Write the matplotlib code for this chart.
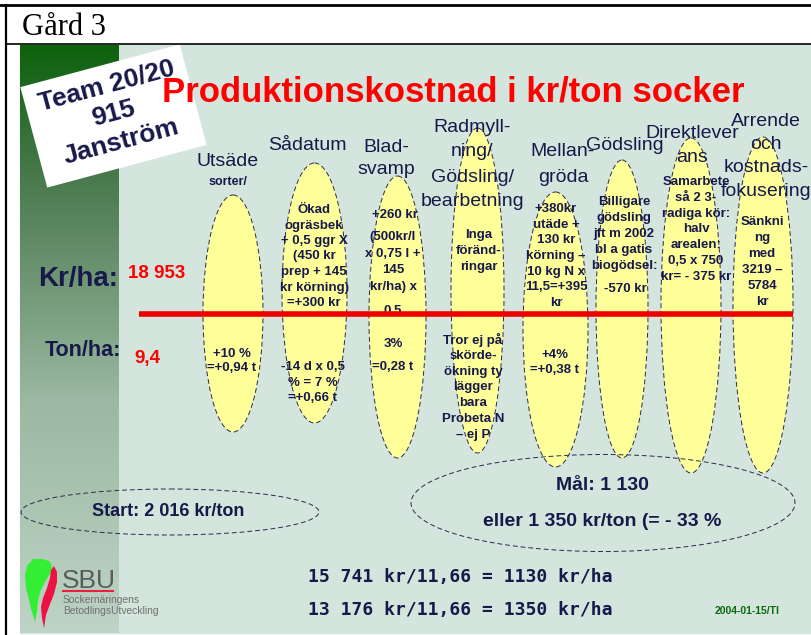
import numpy as np
import matplotlib
matplotlib.use("Agg")
import matplotlib.pyplot as plt
from matplotlib.patches import Ellipse, Rectangle, Polygon

plt.rcParams["font.family"] = ["Liberation Sans", "DejaVu Sans"]

# ------------------------------------------------------------
# SLIDE CONTENT
# ------------------------------------------------------------
frame_title = "Gård 3"
title = "Produktionskostnad i kr/ton socker"
team_lines = ["Team 20/20", "915", "Janström"]

columns = ["Utsäde", "Sådatum", "Blad-\nsvamp",
           "Radmyll-\nning/\nGödsling/\nbearbetning", "Mellan-\ngröda",
           "Gödsling", "Direktlever\nans", "Arrende\noch\nkostnads-\nfokusering"]
column_sub = "sorter/"

# cost effect (above the red line), one list of paragraphs per column
cost_notes = [
    [],
    ["Ökad\nogräsbek\n+ 0,5 ggr X\n(450 kr\nprep + 145\nkr körning)\n=+300 kr"],
    ["+260 kr", "(500kr/l\nx 0,75 l +\n145\nkr/ha) x", "0,5"],
    ["Inga\nföränd-\nringar"],
    ["+380kr\nutäde +\n130 kr\nkörning –\n10 kg N x\n11,5=+395\nkr"],
    ["Billigare\ngödsling\njft m 2002\nbl a gatis\nbiogödsel:", "-570 kr"],
    ["Samarbete\nså 2 3-\nradiga kör:\nhalv\narealen:\n0,5 x 750\nkr= - 375 kr"],
    ["Sänkni\nng\nmed\n3219 –\n5784\nkr"],
]

# yield effect (below the red line)
yield_notes = [
    ["+10 %\n=+0,94 t"],
    ["-14 d x 0,5\n% = 7 %\n=+0,66 t"],
    ["3%", "=0,28 t"],
    ["Tror ej på\nskörde-\nökning ty\nlägger\nbara\nProbeta N\n– ej P"],
    ["+4%\n=+0,38 t"],
    [], [], [],
]

kr_ha_label, kr_ha_value = "Kr/ha:", "18 953"
ton_ha_label, ton_ha_value = "Ton/ha:", "9,4"
start_text = "Start: 2 016 kr/ton"
goal_lines = ["Mål: 1 130", "eller 1 350 kr/ton (= - 33 %"]
calc_lines = ["15 741 kr/11,66 = 1130 kr/ha", "13 176 kr/11,66 = 1350 kr/ha"]
date_text = "2004-01-15/TI"
logo_name = "SBU"
logo_lines = ["Sockernäringens", "BetodlingsUtveckling"]

# ------------------------------------------------------------
# LAYOUT (pixels on the 811x635 picture)
# ------------------------------------------------------------
ellipse_geom = [(233, 313.5, 60, 237), (314.5, 293, 65, 260), (397.5, 317, 57, 282),
                (477.5, 290.5, 53, 325), (555.5, 329.5, 65, 275), (622, 309, 52, 298),
                (691, 305.5, 60, 335), (763, 305, 60, 336)]
header_pos = [(228, 162, 0), (307, 146, 0), (386, 147, 23), (472, 127, 25),
              (563, 152, 25), (625, 146, 0), (692, 133, 25), (766, 121, 23.5)]
cost_pos = [[], [(314, 210, 15.5)], [(395, 215, 0), (393, 237, 16.7), (393, 311, 0)],
            [(479, 235, 16)], [(556, 209, 15.7)], [(624, 202, 16), (625, 289, 0)],
            [(696, 182, 15.8)], [(762, 222, 16)]]
yield_pos = [[(232, 354, 14)], [(313, 367, 15.5)], [(393, 344, 0), (393, 367, 0)],
             [(473, 340, 15.8)], [(555, 355, 15)], [], [], []]

NAVY = "#17194a"
RED = "#ff0000"
BG = "#d3e5dc"
YELLOW = "#ffff99"


def block(ax, x, y, text, step, **kw):
    for i, line in enumerate(text.split("\n")):
        ax.text(x, y + i * step, line, ha="center", va="center", **kw)


fig = plt.figure(figsize=(8.11, 6.35), dpi=100)
ax = fig.add_axes([0, 0, 1, 1])

# slide background + green strip
ax.add_patch(Rectangle((20, 45), 791, 588, color=BG, zorder=0))
stops_y = [45, 180, 400, 633]
stops_c = np.array([[13, 98, 13], [74, 122, 78], [155, 184, 162], [190, 212, 198]]) / 255
ys = np.linspace(45, 633, 300)
grad = np.stack([np.interp(ys, stops_y, stops_c[:, k]) for k in range(3)], axis=1)
ax.imshow(grad[:, None, :], extent=(20, 119, 633, 45), aspect="auto", zorder=1)

# frame
ax.plot([0, 811], [5, 5], color="black", lw=2, zorder=10)
ax.plot([5.5, 811], [43.5, 43.5], color="black", lw=1.2, zorder=10)
ax.plot([5.5, 5.5], [5, 635], color="black", lw=1.6, zorder=10)
ax.text(22, 35, frame_title, fontsize=22, family="Liberation Serif", ha="left", va="baseline")

# team note (rotated white card)
slide_clip = Rectangle((20, 45), 791, 588, transform=ax.transData)
card = Rectangle((113.5 - 82.5, 116 - 52), 165, 104, angle=-15, rotation_point="center",
                 facecolor="white", edgecolor="none", zorder=2)
ax.add_patch(card)
card.set_clip_path(slide_clip)
ang = np.deg2rad(15)
for i, line in enumerate(team_lines):
    off = (i - 1) * 29
    ax.text(114 + off * np.sin(ang), 114 + off * np.cos(ang), line, rotation=15,
            rotation_mode="anchor", ha="center", va="center", fontsize=19,
            fontweight="bold", color=NAVY, zorder=3)

ax.text(453, 101, title, fontsize=25, fontweight="bold", color=RED,
        ha="center", va="baseline", zorder=5)

# column ellipses
for (cx, cy, w, h) in ellipse_geom:
    ax.add_patch(Ellipse((cx, cy), w, h, facecolor=YELLOW, edgecolor="#2a2a50",
                         lw=0.7, linestyle=(0, (5, 3)), zorder=3))

for name, (x, y, step) in zip(columns, header_pos):
    block(ax, x, y, name, step, fontsize=14, color=NAVY, zorder=5)
ax.text(228, 182, column_sub, ha="center", va="center", fontsize=9,
        fontweight="bold", color=NAVY, zorder=5)

for notes, pos in zip(cost_notes, cost_pos):
    for txt, (x, y, step) in zip(notes, pos):
        block(ax, x, y, txt, step, fontsize=9.5, fontweight="bold", color=NAVY, zorder=5)
for notes, pos in zip(yield_notes, yield_pos):
    for txt, (x, y, step) in zip(notes, pos):
        block(ax, x, y, txt, step, fontsize=9.5, fontweight="bold", color=NAVY, zorder=5)

# red reference line
ax.plot([139, 793], [314, 314], color="#ee0000", lw=4, solid_capstyle="butt", zorder=6)

ax.text(78, 279, kr_ha_label, ha="center", va="center", fontsize=20,
        fontweight="bold", color=NAVY, zorder=5)
ax.text(128, 273, kr_ha_value, ha="left", va="center", fontsize=13.5,
        fontweight="bold", color=RED, zorder=5)
ax.text(83, 351, ton_ha_label, ha="center", va="center", fontsize=15.5,
        fontweight="bold", color=NAVY, zorder=5)
ax.text(134, 358, ton_ha_value, ha="left", va="center", fontsize=13.5,
        fontweight="bold", color=RED, zorder=5)

# start / goal bubbles
ax.add_patch(Ellipse((170, 512), 298, 46, fill=False, edgecolor="#2a2a50",
                     lw=0.7, linestyle=(0, (5, 3)), zorder=6))
ax.text(168, 512, start_text, ha="center", va="center", fontsize=13,
        fontweight="bold", color=NAVY, zorder=6)
ax.add_patch(Ellipse((603, 503), 384, 97, fill=False, edgecolor="#2a2a50",
                     lw=0.7, linestyle=(0, (5, 3)), zorder=6))
block(ax, 602, 485, "\n".join(goal_lines), 36, fontsize=14, fontweight="bold",
      color=NAVY, zorder=6)

for i, line in enumerate(calc_lines):
    ax.text(308, 577 + i * 33, line, ha="left", va="center", fontsize=13,
            family="DejaVu Sans Mono", fontweight="bold", color=NAVY, zorder=6)

ax.text(747, 611, date_text, ha="center", va="center", fontsize=7.5,
        fontweight="bold", color="#0a6a0a", zorder=6)

# SBU logo
green = [(27, 566), (25, 575), (26, 588), (29, 600), (32, 612), (35, 622), (37, 612),
         (38, 600), (41, 590), (46, 580), (51, 572), (52, 566), (49, 561), (42, 559), (33, 559)]
red = [(54, 566), (57, 572), (57, 582), (54, 594), (50, 604), (46, 615), (44, 628),
       (42, 618), (41, 607), (43, 598), (47, 588), (50, 578), (51, 570)]
ax.add_patch(Polygon(green, closed=True, facecolor="#33ee33", edgecolor="none", zorder=6))
ax.add_patch(Polygon(red, closed=True, facecolor="#ee1144", edgecolor="none", zorder=6))
ax.text(62, 588, logo_name, ha="left", va="baseline", fontsize=19, color="#5a5a5a", zorder=6)
ax.plot([63, 113], [591, 591], color="#e8203a", lw=1.5, zorder=6)
for i, line in enumerate(logo_lines):
    ax.text(63, 600 + i * 11, line, ha="left", va="center", fontsize=7.4,
            color="#707070", zorder=6)

ax.set_xlim(0, 811)
ax.set_ylim(635, 0)
ax.axis("off")
fig.savefig("out.png", dpi=100, facecolor="white")
